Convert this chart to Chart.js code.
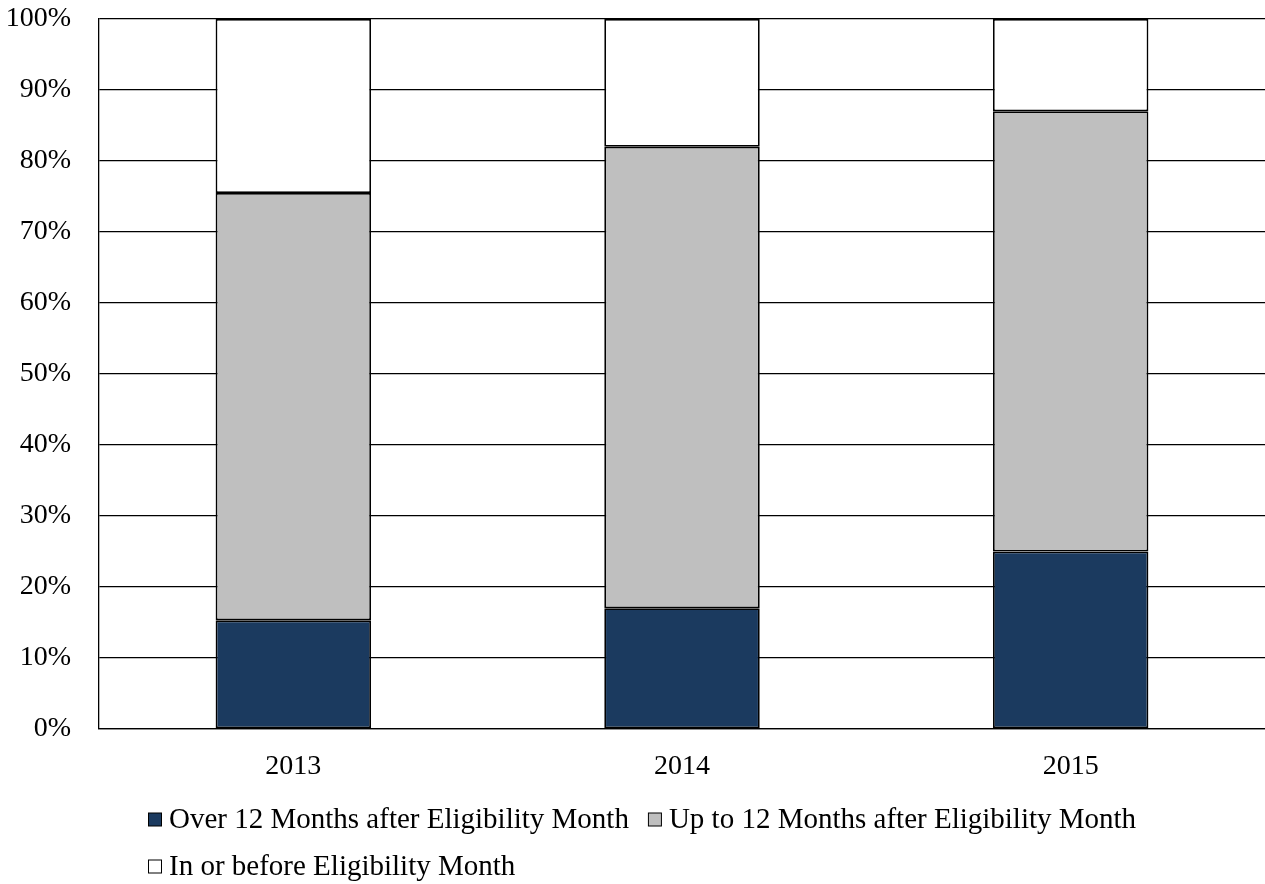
<!DOCTYPE html>
<html>
<head>
<meta charset="utf-8">
<script src="https://cdn.jsdelivr.net/npm/chart.js@4/dist/chart.umd.min.js"></script>
<style>
html,body{margin:0;padding:0;background:#fff;}
#wrap{width:1265px;height:884px;position:relative;}
</style>
</head>
<body>
<div id="wrap"><canvas id="c" width="1265" height="884"></canvas></div>
<script>
const categories = ['2013', '2014', '2015'];
const overTwelve = [15.3, 17.0, 25.0];
const upToTwelve = [60.2, 65.0, 62.0];
const inOrBefore = [24.5, 18.0, 13.0];
const seriesNames = ['Over 12 Months after Eligibility Month', 'Up to 12 Months after Eligibility Month', 'In or before Eligibility Month'];
const seriesColors = ['#1b3a5f', '#bfbfbf', '#ffffff'];
const yTicks = [0, 10, 20, 30, 40, 50, 60, 70, 80, 90, 100];

const FONT = "'Liberation Serif', 'Times New Roman', serif";

const legendPlugin = {
  id: 'customLegend',
  afterDraw(chart) {
    const ctx = chart.ctx;
    ctx.save();
    ctx.font = '29px ' + FONT;
    ctx.textBaseline = 'middle';
    ctx.textAlign = 'left';
    const startX = 148, maxX = 1200, rowH = 47, box = 13, gap = 8, itemGap = 19;
    let x = startX, y = 819;
    chart.data.datasets.forEach((ds) => {
      const w = box + gap + ctx.measureText(ds.label).width;
      if (x + w > maxX && x !== startX) { x = startX; y += rowH; }
      ctx.fillStyle = ds.backgroundColor;
      ctx.fillRect(x + 0.5, y - box / 2 + 0.5, box, box);
      ctx.strokeStyle = '#000';
      ctx.lineWidth = 1;
      ctx.strokeRect(x + 0.5, y - box / 2 + 0.5, box, box);
      ctx.fillStyle = '#000';
      ctx.fillText(ds.label, x + box + gap, y + 1);
      x += w + itemGap;
    });
    ctx.restore();
  }
};

new Chart(document.getElementById('c'), {
  type: 'bar',
  data: {
    labels: categories,
    datasets: [
      { label: seriesNames[0], data: overTwelve, backgroundColor: seriesColors[0] },
      { label: seriesNames[1], data: upToTwelve, backgroundColor: seriesColors[1] },
      { label: seriesNames[2], data: inOrBefore, backgroundColor: seriesColors[2] }
    ].map(d => Object.assign(d, { borderColor: '#000', borderWidth: 1.8, borderSkipped: false, barPercentage: 0.4, categoryPercentage: 1.0 }))
  },
  options: {
    responsive: false,
    animation: false,
    devicePixelRatio: 1,
    layout: { padding: { top: 0, right: 0, bottom: 0, left: 0 } },
    plugins: { legend: { display: false }, tooltip: { enabled: false } },
    scales: {
      x: {
        stacked: true,
        grid: { display: false, drawTicks: false },
        border: { display: true, color: '#000', width: 1.3 },
        ticks: { color: '#000', font: { family: FONT, size: 28 }, padding: 21, maxRotation: 0 },
        afterFit(s) { s.height = 155; s.paddingLeft = 0; s.paddingRight = 0; }
      },
      y: {
        stacked: true,
        min: 0, max: 100,
        afterBuildTicks(s) { s.ticks = yTicks.map(v => ({ value: v })); },
        grid: { color: '#000', lineWidth: 1.3, drawTicks: false },
        border: { display: true, color: '#000', width: 1.3 },
        ticks: { color: '#000', font: { family: FONT, size: 28 }, padding: 28, callback: v => v + '%' },
        afterFit(s) { s.width = 99; s.paddingTop = 19; s.paddingBottom = 0; }
      }
    }
  },
  plugins: [legendPlugin]
});
</script>
</body>
</html>
